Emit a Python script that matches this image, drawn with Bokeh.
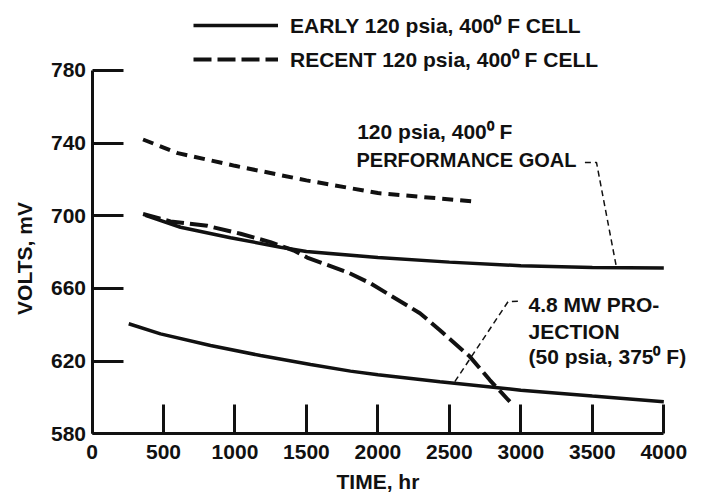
import math
from bokeh.plotting import figure
from bokeh.models import Range1d, FixedTicker, Label, Legend, LegendItem
from bokeh.embed import file_html
from bokeh.resources import INLINE

FONT = "Liberation Sans"
INK = "#111111"
FS = "21px"

# ---- data ----
x_ticks = [0, 500, 1000, 1500, 2000, 2500, 3000, 3500, 4000]
y_ticks = [580, 620, 660, 700, 740, 780]

early_time = [374, 619, 969, 1319, 1500, 2000, 2500, 3000, 3500, 4000]
early_volts = [700.2, 693.7, 687.9, 682.7, 680.3, 677, 674.5, 672.5, 671.5, 671.2]

recent_a_time = [357, 600, 1000, 1500, 2000, 2655]
recent_a_volts = [742, 734.5, 727.5, 719.5, 712.5, 708]

recent_b_time = [357, 549, 806, 1039, 1248, 1412, 1505, 1785, 1944, 2294, 2434, 2643, 2783, 2923]
recent_b_volts = [701, 696.9, 694.5, 690.1, 685.5, 680.9, 677, 669, 663, 646.4, 637, 622.5, 609.6, 597.7]

proj_time = [257, 479, 829, 1179, 1529, 1808, 2000, 2434, 3000, 3500, 4000]
proj_volts = [640.6, 635, 628.6, 623.1, 618.2, 614.5, 612.5, 608.7, 604, 600.8, 597.7]

goal_leader_time = [3448, 3529, 3669]
goal_leader_volts = [729.4, 729.4, 671.5]
proj_leader_time = [2538, 2911, 2993]
proj_leader_volts = [608.7, 652.8, 653]

legend_labels = ["EARLY 120 psia, 400\u2070 F CELL", "RECENT 120 psia, 400\u2070 F CELL"]
note_texts = ["120 psia, 400\u2070 F", "PERFORMANCE GOAL",
              "4.8 MW PRO-", "JECTION", "(50 psia, 375\u2070 F)"]
note_time = [1855, 1850, 3054, 3054, 3054]
note_volts = [746.4, 730.5, 651.2, 636.3, 622.3]
note_sizes = ["21px", "20px", "21px", "21px", "21px"]

x_title, y_title = "TIME, hr", "VOLTS, mV"

# The frame fills the canvas; the axes sit at fixed data locations (x=0, y=580)
p = figure(width=701, height=498, output_backend="svg", toolbar_location=None,
           x_range=Range1d(-640.1, 4263.7), y_range=Range1d(544.4, 818.5),
           min_border=0)
p.outline_line_color = None
p.grid.visible = False
p.background_fill_color = "white"
p.border_fill_color = "white"

for ax in (p.xaxis[0], p.yaxis[0]):
    ax.axis_line_width = 3
    ax.axis_line_color = INK
    ax.major_tick_line_width = 3
    ax.major_tick_line_color = INK
    ax.minor_tick_line_color = None
    ax.major_tick_out = 0
    ax.major_label_text_font = FONT
    ax.major_label_text_font_style = "bold"
    ax.major_label_text_font_size = FS
    ax.major_label_text_color = INK

p.xaxis.major_label_standoff = 11
p.yaxis.major_label_standoff = 6
p.xaxis.ticker = FixedTicker(ticks=x_ticks)
p.yaxis.ticker = FixedTicker(ticks=y_ticks)
p.xaxis.major_tick_in = 29
p.yaxis.major_tick_in = 31
p.xaxis.bounds = (0, 4000)
p.yaxis.bounds = (580, 780)
p.xaxis.fixed_location = 580
p.yaxis.fixed_location = 0

r_early = p.line(early_time, early_volts, line_width=3.5, line_color=INK)
r_rec_a = p.line(recent_a_time, recent_a_volts, line_width=4, line_color=INK, line_dash="11 7")
r_rec_b = p.line(recent_b_time, recent_b_volts, line_width=4, line_color=INK, line_dash="18 6")
r_proj = p.line(proj_time, proj_volts, line_width=3.5, line_color=INK)

p.line(goal_leader_time, goal_leader_volts, line_width=1.5, line_color=INK, line_dash="6 4")
p.line(proj_leader_time, proj_leader_volts, line_width=1.5, line_color=INK, line_dash="6 4")

for t, x, y, fs in zip(note_texts, note_time, note_volts, note_sizes):
    p.add_layout(Label(x=x, y=y, text=t, text_font=FONT, text_font_style="bold",
                       text_font_size=fs, text_color=INK, text_baseline="middle",
                       text_align="left"))

p.add_layout(Label(x=2000, y=553.5, text=x_title, text_font=FONT, text_font_style="bold",
                   text_font_size=FS, text_color=INK, text_baseline="middle",
                   text_align="center"))
p.add_layout(Label(x=-472, y=676.5, text=y_title, angle=math.pi / 2, text_font=FONT,
                   text_font_style="bold", text_font_size=FS, text_color=INK,
                   text_baseline="middle", text_align="center"))

legend = Legend(items=[LegendItem(label=legend_labels[0], renderers=[r_early]),
                       LegendItem(label=legend_labels[1], renderers=[r_rec_b])],
                location=(193, 425), glyph_width=85, glyph_height=20, label_height=20,
                label_standoff=12, spacing=6, padding=0, margin=0,
                border_line_alpha=0, background_fill_alpha=0,
                label_text_font=FONT, label_text_font_style="bold",
                label_text_font_size=FS, label_text_color=INK)
p.add_layout(legend)

open("out.html", "w").write(file_html(p, INLINE))
